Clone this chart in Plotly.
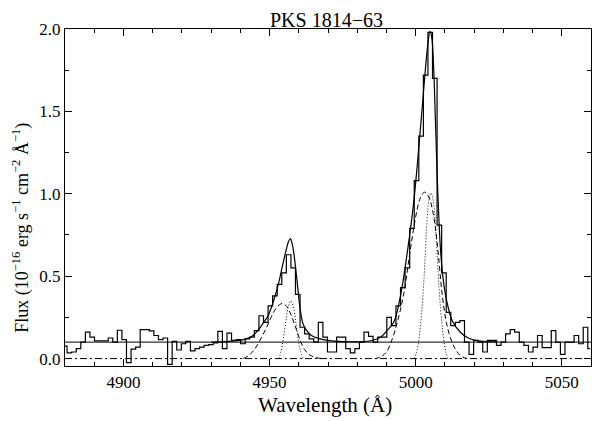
import plotly.graph_objects as go

# ---- observed spectrum (bin centres in Angstrom, flux in 1e-16 erg/s/cm2/A) ----
WAVE = [4879.94, 4881.50, 4883.07, 4884.63, 4886.19, 4887.76, 4889.32, 4890.88, 4892.44, 4894.01,
        4895.57, 4897.13, 4898.70, 4900.26, 4901.82, 4903.39, 4904.95, 4906.51, 4908.07, 4909.64,
        4911.20, 4912.76, 4914.33, 4915.89, 4917.45, 4919.02, 4920.58, 4922.14, 4923.70, 4925.27,
        4926.83, 4928.39, 4929.96, 4931.52, 4933.08, 4934.65, 4936.21, 4937.77, 4939.33, 4940.90,
        4942.46, 4944.02, 4945.59, 4947.15, 4948.71, 4950.28, 4951.84, 4953.40, 4954.96, 4956.53,
        4958.09, 4959.65, 4961.22, 4962.78, 4964.34, 4965.91, 4967.47, 4969.03, 4970.59, 4972.16,
        4973.72, 4975.28, 4976.85, 4978.41, 4979.97, 4981.54, 4983.10, 4984.66, 4986.22, 4987.79,
        4989.35, 4990.91, 4992.48, 4994.04, 4995.60, 4997.17, 4998.73, 5000.29, 5001.86, 5003.42,
        5004.98, 5006.54, 5008.11, 5009.67, 5011.23, 5012.80, 5014.36, 5015.92, 5017.49, 5019.05,
        5020.61, 5022.17, 5023.74, 5025.30, 5026.86, 5028.43, 5029.99, 5031.55, 5033.12, 5034.68,
        5036.24, 5037.80, 5039.37, 5040.93, 5042.49, 5044.06, 5045.62, 5047.18, 5048.75, 5050.31,
        5051.87, 5053.43, 5055.00, 5056.56, 5058.12, 5059.69]

FLUX = [0.075, 0.035, 0.040, 0.060, 0.100, 0.160, 0.130, 0.107, 0.107, 0.107,
        0.125, 0.100, 0.172, 0.115, -0.025, 0.058, 0.070, 0.176, 0.176, 0.168,
        0.140, 0.115, 0.125, -0.035, 0.105, 0.052, 0.090, 0.105, 0.047, 0.060,
        0.070, 0.080, 0.085, 0.095, 0.165, 0.060, 0.155, 0.110, 0.115, 0.090,
        0.120, 0.130, 0.170, 0.260, 0.220, 0.320, 0.380, 0.450, 0.520, 0.630,
        0.550, 0.390, 0.190, 0.150, 0.120, 0.100, 0.220, 0.130, 0.040, 0.040,
        0.130, 0.130, 0.060, 0.035, 0.060, 0.100, 0.160, 0.135, 0.100, 0.130,
        0.130, 0.250, 0.200, 0.320, 0.430, 0.550, 0.790, 1.080, 1.350, 1.720,
        1.980, 1.700, 0.810, 0.520, 0.280, 0.200, 0.220, 0.230, 0.100, 0.026,
        0.110, 0.100, 0.040, 0.110, 0.110, 0.080, 0.100, 0.150, 0.176, 0.160,
        0.100, 0.080, 0.040, 0.070, 0.140, 0.067, 0.067, 0.170, 0.100, 0.026,
        0.100, 0.100, 0.140, 0.090, 0.190, 0.060]

# ---- fitted model ----
TOTAL_WAVE = [4930, 4936, 4941, 4944, 4946, 4948, 4949.5, 4951, 4953, 4954.5, 4955.7, 4956.5,
              4957.1, 4957.7, 4958.3, 4959.3, 4960.4, 4961.3, 4962.3, 4964.3, 4967.2, 4971,
              4977, 4982, 4985, 4988, 4990.2, 4992.5, 4994.8, 4997.1, 4999.4, 5001.6, 5003.3,
              5004.3, 5004.9, 5005.5, 5006.1, 5006.7, 5007.3, 5008.5, 5009.5, 5010.5, 5012.5,
              5015.3, 5018, 5022, 5028]
TOTAL_FLUX = [0.100, 0.104, 0.115, 0.135, 0.170, 0.220, 0.260, 0.330, 0.450, 0.570, 0.660, 0.710,
              0.728, 0.700, 0.640, 0.490, 0.310, 0.220, 0.180, 0.140, 0.120, 0.108,
              0.102, 0.103, 0.110, 0.130, 0.170, 0.220, 0.380, 0.640, 0.960, 1.390, 1.750,
              1.930, 1.985, 1.950, 1.790, 1.480, 1.140, 0.660, 0.470, 0.360, 0.230,
              0.160, 0.125, 0.106, 0.101]

BROAD_WAVE_4959 = [4941, 4943, 4945, 4947, 4949, 4950.5, 4952, 4953.3, 4954.5, 4955.7, 4957,
                   4958.3, 4959.5, 4960.7, 4962, 4963.5, 4965.5, 4968]
BROAD_FLUX_4959 = [0.0, 0.02, 0.06, 0.12, 0.19, 0.25, 0.30, 0.325, 0.335, 0.32, 0.28,
                   0.22, 0.16, 0.10, 0.055, 0.025, 0.008, 0.0]

BROAD_WAVE_5007 = [4986, 4988, 4990, 4992, 4994, 4996, 4998, 5000, 5001.5, 5003, 5004.5,
                   5006, 5007.5, 5009, 5010.5, 5012, 5013.5, 5015.5, 5017.5]
BROAD_FLUX_5007 = [0.0, 0.01, 0.04, 0.12, 0.24, 0.40, 0.64, 0.86, 0.97, 1.01, 0.98,
                   0.88, 0.68, 0.40, 0.22, 0.12, 0.06, 0.015, 0.0]

NARROW_WAVE_4959 = [4953.2, 4954.0, 4954.8, 4955.7, 4956.5, 4957.3, 4958.1, 4958.9, 4959.7,
                    4960.5, 4961.5]
NARROW_FLUX_4959 = [0.0, 0.05, 0.13, 0.24, 0.32, 0.35, 0.32, 0.23, 0.13, 0.05, 0.0]

NARROW_WAVE_5007 = [4999.5, 5000.5, 5001.8, 5002.7, 5003.9, 5004.6, 5005.3, 5006.0, 5006.8,
                    5008.0, 5009.1, 5010.2, 5011.0]
NARROW_FLUX_5007 = [0.0, 0.05, 0.23, 0.44, 0.84, 0.97, 1.005, 0.96, 0.80, 0.43, 0.19, 0.05, 0.0]

CONT_WAVE = [4880, 5060]
CONT_FLUX = [0.10, 0.10]
ZERO_FLUX = [0.0, 0.0]

X_RANGE = [4880, 5060]
Y_RANGE = [-0.045, 2.0]

TITLE = "PKS 1814−63"
X_TITLE = "Wavelength (Å)"
Y_TITLE = "Flux (10<sup>−16</sup> erg s<sup>−1</sup> cm<sup>−2</sup> Å<sup>−1</sup>)"

FONT = "Liberation Serif"
BLACK = "black"

fig = go.Figure()

fig.add_trace(go.Scatter(x=CONT_WAVE, y=ZERO_FLUX, mode="lines",
                         line=dict(color=BLACK, width=1, dash="7px,3px,2px,3px")))
fig.add_trace(go.Scatter(x=CONT_WAVE, y=CONT_FLUX, mode="lines",
                         line=dict(color=BLACK, width=1)))
for wx, fy in [(BROAD_WAVE_4959, BROAD_FLUX_4959), (BROAD_WAVE_5007, BROAD_FLUX_5007)]:
    fig.add_trace(go.Scatter(x=wx, y=fy, mode="lines", line_shape="spline",
                             line=dict(color=BLACK, width=1, dash="5px,3px")))
for wx, fy in [(NARROW_WAVE_4959, NARROW_FLUX_4959), (NARROW_WAVE_5007, NARROW_FLUX_5007)]:
    fig.add_trace(go.Scatter(x=wx, y=fy, mode="lines", line_shape="spline",
                             line=dict(color=BLACK, width=1, dash="1px,2px")))
fig.add_trace(go.Scatter(x=TOTAL_WAVE, y=TOTAL_FLUX, mode="lines", line_shape="spline",
                         line=dict(color=BLACK, width=1.2)))
fig.add_trace(go.Scatter(x=WAVE, y=FLUX, mode="lines", line_shape="hvh",
                         line=dict(color=BLACK, width=1.2)))

axis_common = dict(showline=True, linecolor=BLACK, linewidth=1.2, mirror="ticks",
                   ticks="inside", tickcolor=BLACK, tickwidth=1, showgrid=False,
                   zeroline=False, automargin=False,
                   tickfont=dict(family=FONT, size=17, color=BLACK))

fig.update_xaxes(range=X_RANGE, tick0=4900, dtick=50, ticklen=7,
                 minor=dict(ticks="inside", dtick=10, ticklen=4, tickcolor=BLACK, showgrid=False),
                 **axis_common)
fig.update_yaxes(range=Y_RANGE, tick0=0, dtick=0.5, tickformat=".1f", ticklen=7,
                 minor=dict(ticks="inside", dtick=0.25, ticklen=4, tickcolor=BLACK, showgrid=False),
                 **axis_common)

fig.add_annotation(text=X_TITLE, xref="paper", yref="paper", x=0.4946, y=-0.116,
                   xanchor="center", yanchor="middle", showarrow=False,
                   font=dict(family=FONT, size=21, color=BLACK))
fig.add_annotation(text=Y_TITLE, xref="paper", yref="paper", x=-0.0837, y=0.41,
                   xanchor="center", yanchor="middle", showarrow=False, textangle=-90,
                   font=dict(family=FONT, size=18, color=BLACK))

fig.update_layout(
    width=605, height=421,
    margin=dict(l=57, r=22, t=21, b=63),
    paper_bgcolor="white", plot_bgcolor="white",
    showlegend=False,
    title=dict(text=TITLE, x=0.5264, xanchor="center", y=0.972, yanchor="middle",
               font=dict(family=FONT, size=20, color=BLACK)),
)

fig.write_html("out.html")
